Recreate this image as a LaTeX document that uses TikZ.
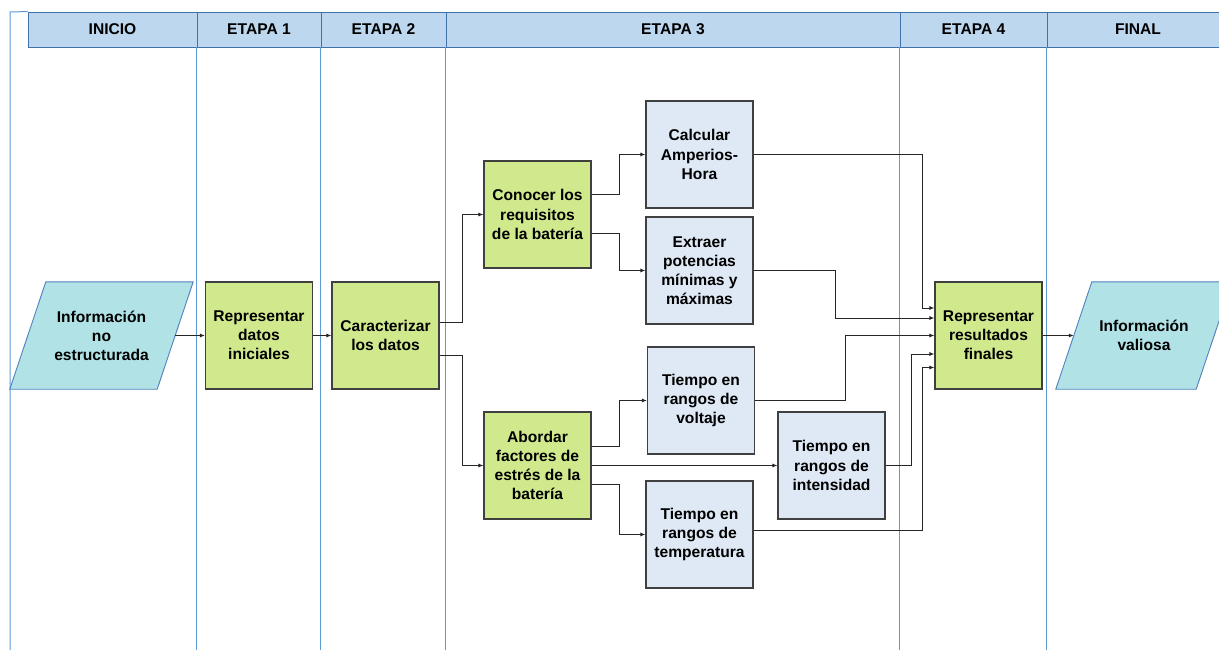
\documentclass[tikz,border=0pt]{standalone}
\usepackage{fontspec}
\setmainfont{Liberation Sans}
\usetikzlibrary{arrows.meta}
\definecolor{hdrfill}{RGB}{189,215,238}
\definecolor{hdrline}{RGB}{65,113,170}
\definecolor{laneline}{RGB}{91,155,213}
\definecolor{greenfill}{RGB}{209,233,141}
\definecolor{bluefill}{RGB}{222,233,245}
\definecolor{cyanfill}{RGB}{176,226,230}
\definecolor{cyanline}{RGB}{79,129,189}
\definecolor{boxline}{RGB}{64,64,64}
\begin{document}
\begin{tikzpicture}[x=1pt,y=-1pt,
  every node/.style={font=\fontsize{15.6}{19.1}\selectfont\bfseries, align=center, inner sep=0pt},
  hdr/.style={draw=hdrline, fill=hdrfill, line width=0.9pt, minimum height=35},
  proc/.style={draw=boxline, fill=greenfill, line width=1.1pt, minimum width=107, minimum height=107},
  task/.style={proc, fill=bluefill},
  io/.style={minimum height=107},
  iopoly/.style={draw=cyanline, fill=cyanfill, line width=0.9pt},
  conn/.style={draw=black!85, line width=1pt, -{Latex[length=5pt,width=4pt]}},
  lane/.style={draw=laneline, line width=1pt}
]
\useasboundingbox (0,0) rectangle (1219,650);
\clip (0,0) rectangle (1219,650);

% header
\node[hdr, minimum width=169] (h0) at (112.5,29.5) {INICIO};
\node[hdr, minimum width=124] (h1) at (259,29.5) {ETAPA 1};
\node[hdr, minimum width=125] (h2) at (383.5,29.5) {ETAPA 2};
\node[hdr, minimum width=454] (h3) at (673,29.5) {ETAPA 3};
\node[hdr, minimum width=147] (h4) at (973.5,29.5) {ETAPA 4};
\node[hdr, minimum width=182] (h5) at (1138,29.5) {FINAL};

% lanes
\draw[lane] (10,650) -- (10,12) -- (h0.north west);
\foreach \h in {h1,h2,h3,h4,h5}{
  \draw[lane] (\h.south west) -- (\h.south west |- 0,650);
}

% parallelograms (input / output)
\node[io, minimum width=183] (ine) at (101.5,335.5) {};
\node[io, minimum width=176] (iv) at (1144,335.5) {};
\foreach \p in {ine,iv}{
  \filldraw[iopoly] (\p.south west) -- ([xshift=36pt]\p.north west) -- (\p.north east)
     -- ([xshift=-36pt]\p.south east) -- cycle;
}
\node at (ine) {Información\\no\\estructurada};
\node at (iv) {Información\\valiosa};

% nodes
\node[proc] (rdi) at (259,335.5) {Representar\\datos\\iniciales};
\node[proc] (cd) at (385.5,335.5) {Caracterizar\\los datos};
\node[proc] (clr) at (537.5,214.5) {Conocer los\\requisitos\\de la batería};
\node[task] (cah) at (699.5,154.5) {Calcular\\Amperios-\\Hora};
\node[task] (epm) at (699.5,270.5) {Extraer\\potencias\\mínimas y\\máximas};
\node[task] (trv) at (701,400.5) {Tiempo en\\rangos de\\voltaje};
\node[proc] (afe) at (537.5,465.5) {Abordar\\factores de\\estrés de la\\batería};
\node[task] (tri) at (831.5,465.5) {Tiempo en\\rangos de\\intensidad};
\node[task] (trt) at (699.5,534.5) {Tiempo en\\rangos de\\temperatura};
\node[proc] (rrf) at (988.5,335.5) {Representar\\resultados\\finales};

% connectors
\draw[conn] ([xshift=-18pt]ine.east) -- (rdi);
\draw[conn] (rdi) -- (cd);
\draw[conn] ([yshift=13.5pt]cd.east) -- ++(23,0) |- (clr.west);
\draw[conn] ([yshift=-19.5pt]cd.east) -- ++(23,0) |- (afe.west);
\draw[conn] ([yshift=19.5pt]clr.east) -- ++(28,0) |- (cah.west);
\draw[conn] ([yshift=-18.5pt]clr.east) -- ++(28,0) |- (epm.west);
\draw[conn] ([yshift=19.5pt]afe.east) -- ++(28,0) |- (trv.west);
\draw[conn] (afe.east) -- (tri.west);
\draw[conn] ([yshift=-18.5pt]afe.east) -- ++(28,0) |- (trt.west);
\draw[conn] (cah.east) -- ++(169,0) |- ([yshift=27.5pt]rrf.west);
\draw[conn] (epm.east) -- ++(82,0) |- ([yshift=17.5pt]rrf.west);
\draw[conn] (trv.east) -- ++(90,0) |- (rrf.west);
\draw[conn] (tri.east) -- ++(26,0) |- ([yshift=-18.5pt]rrf.west);
\draw[conn] ([yshift=4.5pt]trt.east) -- ++(169,0) |- ([yshift=-32pt]rrf.west);
\draw[conn] (rrf) -- ([xshift=18pt]iv.west);
\end{tikzpicture}
\end{document}
